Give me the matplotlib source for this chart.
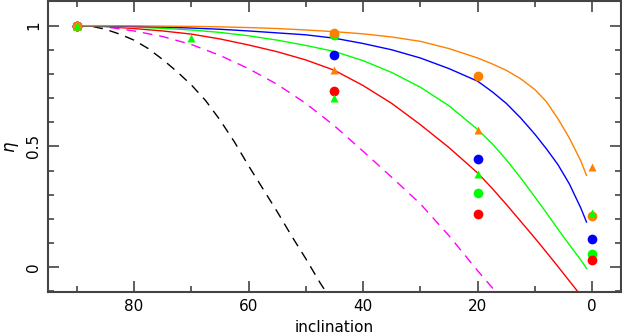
import numpy as np
import matplotlib
matplotlib.use('Agg')
import matplotlib.pyplot as plt
from matplotlib.ticker import MultipleLocator

# model curves (inclination in deg -> eta)
inc_solid = [90, 85, 80, 75, 70, 65, 60, 55, 50, 45, 40, 35, 30, 25, 20,
             17.5, 15, 12.5, 10, 8, 6, 4, 2, 1]
eta_orange = [1.0, 1.0, 0.999, 0.998, 0.997, 0.995, 0.992, 0.988, 0.982, 0.975,
              0.966, 0.953, 0.935, 0.905, 0.866, 0.842, 0.815, 0.78, 0.735,
              0.685, 0.615, 0.535, 0.44, 0.38]
eta_blue = [1.0, 0.999, 0.997, 0.994, 0.99, 0.985, 0.978, 0.97, 0.962, 0.948,
            0.926, 0.9, 0.866, 0.822, 0.77, 0.727, 0.678, 0.618, 0.55,
            0.49, 0.425, 0.345, 0.245, 0.187]
eta_green = [1.0, 0.998, 0.994, 0.989, 0.982, 0.972, 0.958, 0.94, 0.918, 0.893,
             0.855, 0.806, 0.745, 0.668, 0.57, 0.512, 0.445, 0.37, 0.29,
             0.225, 0.158, 0.093, 0.03, -0.005]
inc_red = [90, 85, 80, 75, 70, 65, 60, 55, 50, 45, 40, 35, 30, 25, 20,
           17.5, 15, 12.5, 10, 8, 6, 4, 2]
eta_red = [1.0, 0.996, 0.988, 0.978, 0.965, 0.945, 0.92, 0.892, 0.858, 0.815,
           0.752, 0.678, 0.59, 0.495, 0.39, 0.327, 0.26, 0.19, 0.12,
           0.062, 0.003, -0.057, -0.117]

inc_mag = [90, 85, 80, 75, 70, 65, 60, 55, 50, 45, 40, 35, 30, 25, 20, 16]
eta_mag = [1.0, 0.995, 0.978, 0.955, 0.922, 0.877, 0.822, 0.757, 0.678, 0.585,
           0.48, 0.372, 0.262, 0.13, -0.015, -0.125]
inc_blk = [90, 87.5, 85, 82.5, 80, 77.5, 75, 72.5, 70, 67.5, 65, 62.5, 60,
           57.5, 55, 52.5, 50, 47.5, 46]
eta_blk = [1.0, 0.998, 0.985, 0.965, 0.94, 0.905, 0.86, 0.81, 0.755, 0.69,
           0.61, 0.52, 0.42, 0.325, 0.23, 0.13, 0.035, -0.065, -0.12]

# measured points
inc_pts = [90, 45, 20, 0]
circ_green = [1.0, 0.963, 0.305, 0.054]
circ_orange = [1.0, 0.971, 0.79, 0.212]
circ_blue = [1.0, 0.88, 0.446, 0.118]
circ_red = [1.0, 0.73, 0.219, 0.029]
inc_tri = [90, 70, 45, 20, 0]
tri_orange = [1.0, np.nan, 0.818, 0.569, 0.414]
tri_green = [1.0, 0.95, 0.70, 0.387, 0.223]

ORANGE = '#ff8000'

fig = plt.figure(figsize=(6.22, 3.33), dpi=100)
ax = fig.add_axes([0.0772, 0.123, 0.921, 0.874])

ax.plot(inc_blk, eta_blk, color='black', lw=1, dashes=(7, 5))
ax.plot(inc_mag, eta_mag, color='#ff00ff', lw=1, dashes=(7, 5))
ax.plot(inc_red, eta_red, color='#ff0000', lw=1)
ax.plot(inc_solid, eta_green, color='#00ff00', lw=1)
ax.plot(inc_solid, eta_blue, color='#0000ff', lw=1)
ax.plot(inc_solid, eta_orange, color=ORANGE, lw=1)

ax.plot(inc_pts, circ_green, 'o', color='#00ff00', ms=7, mec='none')
ax.plot(inc_pts, circ_red, 'o', color='#ff0000', ms=7, mec='none')
ax.plot(inc_pts, circ_blue, 'o', color='#0000ff', ms=7, mec='none')
ax.plot(inc_pts, circ_orange, 'o', color=ORANGE, ms=7, mec='none')
ax.plot(inc_tri, tri_orange, '^', color=ORANGE, ms=6, mec='none')
ax.plot(inc_tri, tri_green, '^', color='#00ff00', ms=6, mec='none')

ax.set_xlim(95, -5)
ax.set_ylim(-0.103, 1.102)
ax.xaxis.set_major_locator(MultipleLocator(20))
ax.xaxis.set_minor_locator(MultipleLocator(10))
ax.yaxis.set_major_locator(MultipleLocator(0.5))
ax.yaxis.set_minor_locator(MultipleLocator(0.1))
ax.set_yticks([0, 0.5, 1])
ax.set_yticklabels(['0', '0.5', '1'], rotation=90, va='center')
ax.tick_params(which='both', direction='in', top=True, right=True,
               color='#444444', labelsize=11, width=1.2)
ax.tick_params(which='major', length=8, pad=5)
ax.tick_params(which='minor', length=4)
for s in ax.spines.values():
    s.set_color('#444444')
    s.set_linewidth(1.5)

ax.set_xlabel('inclination', fontsize=11, labelpad=4)
ax.set_ylabel(r'$\eta$', fontsize=12, rotation=90, labelpad=4)

fig.savefig('out.png', dpi=100)
